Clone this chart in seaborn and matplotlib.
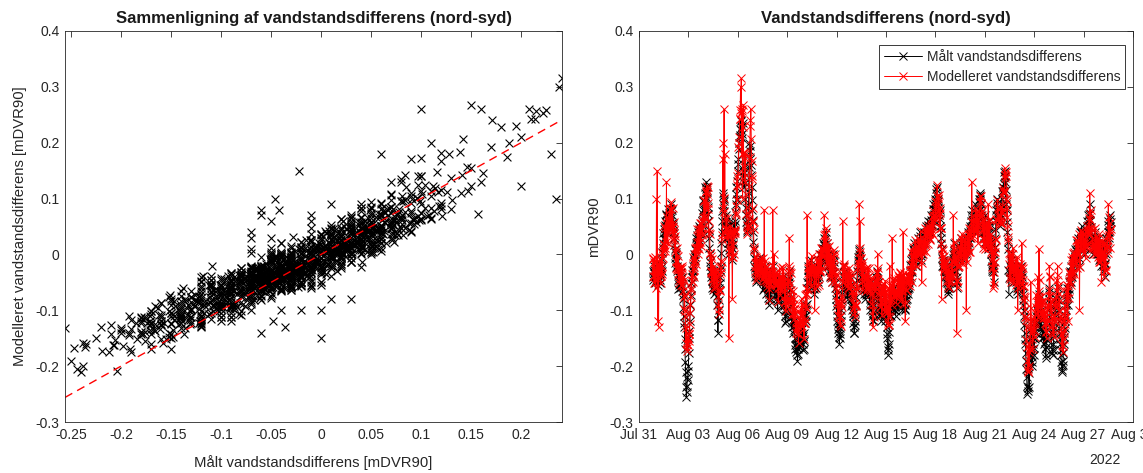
import numpy as np
import pandas as pd
import matplotlib
matplotlib.use("Agg")
import matplotlib.pyplot as plt
import matplotlib.dates as mdates
from matplotlib.ticker import FuncFormatter
import seaborn as sns

# Half-hourly water-level difference north-south, in millimetres (DVR90).
# One line per day, each line starting at 20:00.
start_time = "2022-07-31 20:00"
sample_step = "30min"

measured_mm = [
    -30, -41, -45, -28, -20, -33, -35, -52, -50, -37, -25, -46, -40, -22, -30, -48, -55, -36, -20, -14, -35, -51, -45, -27, -10, -24, -30, -8, 5, 12, 20, 38, 45, 27, 30, 52, 60, 41, 50, 73, 70, 48, 40, 62, 65, 81, 55, 67,
    75, 58, 60, 84, 90, 66, 50, 71, 80, 57, 40, 49, 55, 38, 30, 17, 10, -6, -15, 4, 0, -22, -30, -11, -20, -38, -45, -62, -55, -41, -35, -53, -60, -44, -50, -31, -40, -58, -65, -72, -80, -96, -110, -122, -130, -151, -170, -192,
    -210, -238, -256, -247, -235, -219, -225, -208, -200, -176, -150, -137, -120, -104, -90, -73, -60, -52, -40, -27, -20, -36, -30, -12, 0, -9, 10, -4, -10, 8, 20, 29, 35, 22, 15, 31, 40, 18, 25, 44, 50, 37, 30, 48, 55, 39, 45, 52,
    60, 74, 80, 98, 95, 82, 70, 93, 110, 121, 100, 117, 130, 112, 120, 101, 85, 72, 60, 44, 30, 12, 0, -13, -20, -34, -40, -27, -30, -47, -60, -51, -45, -63, -70, -58, -50, -39, -35, -52, -65, -48, -55, -74, -90, -118, -140, -117,
    -100, -82, -60, -51, -40, -28, -20, 3, 20, 41, 60, 77, 90, 104, 110, 96, 100, 78, 60, 47, 40, 58, 70, 49, 30, 44, 50, 33, 20, 8, 0, 21, 40, 52, 60, 38, 20, 5, -10, 12, 30, 19, 10, 34, 50, 42, 40, 55,
    60, 76, 90, 108, 120, 97, 100, 131, 150, 162, 170, 188, 200, 214, 210, 225, 238, 222, 241, 215, 230, 208, 235, 180, 150, 139, 120, 146, 160, 128, 100, 84, 70, 58, 50, 43, 40, 52, 60, 88, 110, 157, 200, 186, 195, 171, 160, 142,
    120, 97, 80, 61, 40, 22, 10, -6, -20, -33, -40, -24, -10, -31, -50, -38, -30, -12, -20, -41, -45, -28, -10, -22, -30, -16, -5, -27, -35, -48, -20, -37, -50, -64, -30, -44, -60, -42, -20, -34, -40, -58, -70, -47, -30, -39, -50, -62,
    -60, -78, -90, -81, -70, -52, -40, -63, -80, -66, -50, -38, -30, -47, -60, -41, -20, -35, -50, -62, -70, -55, -40, -61, -80, -72, -60, -84, -100, -86, -70, -58, -50, -67, -80, -71, -60, -76, -90, -68, -40, -57, -70, -61, -50, -66, -80, -93,
    -90, -102, -110, -123, -120, -108, -100, -87, -80, -67, -60, -44, -30, -41, -50, -63, -70, -81, -90, -104, -110, -119, -130, -112, -100, -121, -140, -128, -120, -136, -150, -163, -170, -152, -160, -174, -180, -168, -190, -178, -170, -158, -150, -166, -160, -147, -140, -133,
    -130, -141, -150, -133, -120, -146, -160, -171, -170, -155, -140, -122, -110, -97, -90, -108, -120, -88, -60, -49, -40, -27, -20, -38, -50, -41, -30, -47, -60, -33, -10, -26, -40, -31, -20, -36, -50, -62, -70, -54, -40, -35, -30, -47, -60, -38, -20, -28,
    -30, -44, -50, -29, -10, -23, -40, -18, 0, -11, -20, -3, 10, -6, -10, 8, 20, 11, 0, 17, 30, 22, 10, 27, 40, 14, -10, 6, 20, -2, -20, -9, 0, -17, -30, -21, -10, -28, -40, -32, -20, -37, -50, -41, -30, -12, 0, -14,
    -20, -32, -40, -51, -60, -73, -80, -92, -100, -111, -120, -133, -140, -124, -130, -147, -160, -142, -150, -131, -120, -108, -100, -84, -70, -61, -50, -36, -20, -31, -40, -52, -60, -44, -30, -49, -70, -58, -50, -66, -80, -71, -60, -48, -40, -57, -70, -54,
    -60, -71, -80, -93, -100, -88, -90, -104, -110, -122, -130, -141, -140, -127, -120, -103, -90, -76, -60, -45, -30, -21, -10, -4, 0, 6, 10, -2, -10, -16, -20, -33, -40, -52, -60, -43, -30, -41, -50, -63, -70, -52, -40, -61, -80, -69, -60, -72,
    -50, -63, -70, -54, -40, -51, -60, -72, -80, -91, -100, -84, -70, -82, -90, -101, -110, -117, -120, -104, -90, -73, -60, -71, -80, -58, -40, -56, -70, -48, -30, -42, -50, -66, -80, -92, -100, -107, -110, -98, -90, -106, -120, -97, -80, -91, -100, -87,
    -90, -103, -110, -94, -80, -98, -120, -111, -100, -117, -130, -142, -150, -166, -180, -171, -160, -138, -120, -109, -100, -92, -80, -96, -110, -88, -70, -82, -90, -74, -60, -81, -100, -91, -80, -95, -110, -101, -90, -78, -70, -64, -60, -76, -90, -68, -50, -62,
    -70, -82, -90, -76, -60, -69, -80, -94, -100, -86, -70, -58, -50, -71, -90, -97, -100, -81, -60, -72, -80, -63, -50, -61, -70, -54, -40, -52, -60, -44, -30, -19, -10, -27, -40, -31, -20, -6, 10, -2, -10, 6, 20, 11, 0, -11, -20, -8,
    0, 12, 20, 6, -10, 9, 30, 21, 10, 27, 40, 33, 20, 4, -10, -3, 0, 11, 20, 16, 10, 22, 30, 38, 40, 28, 20, 37, 50, 41, 30, 35, 40, 53, 60, 44, 30, 41, 50, 47, 40, 58, 70, 61, 50, 55, 60, 52,
    70, 82, 90, 73, 60, 81, 100, 92, 80, 97, 110, 118, 120, 104, 90, 96, 100, 84, 70, 76, 80, 64, 50, 41, 30, 18, 10, -6, -20, -14, -10, -21, -30, -18, -10, -27, -40, -31, -20, -36, -50, -44, -40, -52, -60, -66, -70, -58,
    -60, -51, -40, -47, -50, -36, -20, -27, -30, -14, 0, -6, -10, 7, 20, 3, -20, -11, 0, -16, -30, -47, -60, -52, -40, -23, -10, 1, 10, -3, -10, 6, 20, 13, 0, 14, 30, 22, 10, -2, -10, 7, 20, 11, 0, 16, 30, 24,
    20, 8, 0, 16, 30, 19, 10, 26, 40, 31, 20, 37, 50, 42, 30, 47, 60, 71, 80, 64, 50, 61, 70, 54, 40, 52, 60, 77, 90, 68, 50, 63, 70, 56, 40, 51, 60, 72, 80, 93, 100, 106, 110, 99, 90, 81, 70, 62,
    50, 38, 30, 47, 60, 41, 20, 31, 40, 57, 70, 49, 30, 42, 50, 28, 10, 27, 40, 51, 60, 38, 20, 26, 30, 13, 0, -12, -20, -26, -30, -18, -10, -32, -50, -24, 0, 14, 30, 46, 60, 71, 80, 92, 100, 84, 70, 78,
    60, 71, 80, 63, 50, 72, 90, 81, 70, 88, 100, 113, 120, 114, 110, 126, 140, 147, 150, 141, 130, 116, 100, 91, 80, 58, 40, 23, 10, -28, -70, -42, -20, -31, -40, -26, -10, -22, -30, -13, 0, -27, -50, -36, -20, -32, -40, -29,
    -30, -43, -50, -34, -20, -41, -60, -66, -70, -54, -40, -51, -60, -44, -30, -42, -50, -37, -20, -31, -40, -57, -70, -81, -90, -101, -110, -126, -140, -152, -160, -177, -190, -206, -220, -236, -250, -244, -240, -204, -170, -212, -238, -191, -150, -136, -120, -134,
    -180, -192, -200, -184, -170, -161, -150, -167, -180, -152, -130, -121, -110, -126, -140, -117, -100, -112, -120, -103, -90, -78, -70, -92, -110, -122, -130, -113, -100, -111, -120, -136, -150, -141, -130, -147, -160, -148, -140, -157, -170, -180, -185, -166, -150, -133, -120, -108,
    -100, -91, -80, -68, -60, -87, -110, -122, -130, -141, -150, -162, -170, -176, -180, -171, -160, -148, -140, -131, -120, -108, -100, -91, -80, -86, -90, -73, -60, -82, -100, -112, -120, -131, -140, -152, -160, -171, -180, -192, -200, -207, -210, -198, -190, -176, -160, -148,
    -140, -131, -120, -108, -100, -91, -80, -72, -60, -76, -90, -68, -50, -62, -70, -48, -30, -41, -50, -33, -20, -31, -40, -22, -10, -18, -30, -14, 0, -11, -20, -4, 10, 1, -10, 6, 20, 9, 0, 17, 30, 22, 10, -6, -20, 13, 40, 29,
    30, 41, 50, 36, 20, 31, 40, 24, 10, 22, 30, 14, 0, 11, 20, 32, 40, 51, 60, 43, 30, 52, 70, 61, 50, 72, 90, 74, 60, 49, 40, 28, 20, 26, 30, 13, 0, 9, 20, 31, 40, 24, 10, 18, 30, 16, 0, 8,
    20, 9, 0, 17, 30, 8, -10, 2, 10, -6, -20, -9, 0, 11, 20, 4, -10, -21, -30, -8, 10, -16, -40, -18, 0, 16, 30, 19, 10, 26, 40, 52, 60, 44, 30, 41, 50, 63, 70, 58,
]

modelled_mm = [
    -9, -39, -7, -38, -51, -14, -4, -37, -27, -60, -30, 100, -30, 150, -42, -120, -17, -130, -32, -36, -29, -8, -19, -52, -34, -38, 2, -21, -35, 6, -7, 12, 18, 16, 50, 12, 6, 48, 56, 22, 130, 42, 67, 36, 20, 61, 43, 71,
    58, 47, 82, 48, 41, 82, 93, 49, 48, 47, 84, 50, 25, 58, 43, 38, 33, 5, 25, -11, -24, 10, 11, -26, -22, -27, -3, -35, -45, -26, -52, -26, -22, -55, -35, -39, -54, -20, -24, -57, -40, -66, -46, -76, -98, -73, -102, -111,
    -127, -159, -131, -168, -160, -172, -150, -163, -141, -155, -143, -143, -125, -88, -105, -77, -60, -63, -35, -47, -49, -16, -4, -40, -22, -28, 12, -11, 0, 10, -17, 13, 23, 12, 45, 12, 1, 32, 46, 9, 23, 23, 57, 30, 15, 57, 43, 39,
    48, 35, 67, 61, 58, 96, 98, 65, 65, 69, 114, 111, 82, 123, 115, 109, 120, 81, 92, 59, 38, 45, 36, 3, 3, -29, -3, -31, -45, -8, -32, -32, -42, -53, -20, -58, -62, -42, -29, -43, -27, -58, -31, -40, -55, -38, -75, -91,
    -97, -107, -63, -65, -64, -35, -24, -32, -12, -13, 27, 34, 170, 83, 200, 101, 260, 76, 180, 65, 38, 48, 46, 44, 65, 28, 37, 37, 35, 42, -150, 13, 8, 4, 50, 42, 38, 39, 26, -4, -80, -4, 37, 17, 0, 43, 38, 42,
    43, 38, 75, 71, 86, 124, 141, 98, 123, 145, 192, 200, 210, 242, 243, 259, 300, 253, 315, 257, 180, 261, 100, 229, 268, 184, 182, 157, 130, 180, 173, 143, 108, 72, 85, 53, 36, 49, 51, 43, 63, 72, 122, 175, 230, 240, 260, 206,
    168, 140, 135, 84, 58, 59, 46, 8, 13, -22, -3, -30, -45, -5, -17, -21, -32, -40, -10, -17, -29, -25, -24, -32, -7, -33, -13, -13, -15, -8, -37, -33, -7, -44, -25, -47, -39, 80, -39, -41, -12, -45, -23, -50, -58, -23, -32, -29,
    -32, -52, -35, -61, -82, -53, -37, -51, -32, -57, -46, -46, -50, -19, 80, -32, -42, -43, 0, -35, -54, -34, -37, -54, -32, -55, -46, -52, -60, -48, -85, -59, -40, -60, -25, -50, -72, -43, -39, -63, -65, -62, -23, -49, -58, -25, -47, -39,
    -50, -83, -53, -85, -102, -82, -87, -95, -75, -81, -46, -47, -60, -20, 30, -26, -32, -53, -33, -64, -82, -76, -77, -106, -92, -106, -66, -88, -115, -79, -105, -96, -107, -140, -120, -122, -139, -133, -134, -142, -142, -159, -123, -125, -125, -117, -132, -107,
    -97, -110, -80, -111, -129, -92, -87, -120, -122, -152, -123, -122, -115, -73, -95, -70, -60, -98, 70, -71, -64, -33, -24, -31, -12, -49, -28, -33, -35, -23, -57, -23, -2, -33, -20, -31, -29, -25, -29, -49, -100, -60, -23, -32, -35, -23, -57, -28,
    -7, -35, -10, -39, -54, -18, 1, -27, -32, -29, 12, -13, -25, 11, 3, -1, -2, -4, 35, 6, 70, 23, 36, 8, 13, 6, 47, 12, -20, 20, 13, 3, -7, -21, 15, -17, -39, -10, 1, -32, -32, -43, -3, -34, -50, -17, -32, -7,
    8, -21, 0, -32, -49, -35, -39, -60, -55, -86, -66, -91, -108, -84, -112, -84, -87, -124, -110, -112, -129, -90, -87, -95, -75, -78, 60, -41, -50, -17, -22, -21, -27, -54, -35, -39, -39, -33, -37, -57, -37, -60, -46, -51, -60, -24, -42, -42,
    -40, -56, -35, -54, -72, -65, -67, -75, -65, -98, -76, -89, -105, -92, -112, -87, -90, -93, -53, -59, -64, -29, -14, -25, -7, -20, 90, 4, 60, 12, -17, -6, -7, -40, -20, -47, -64, -27, -14, -40, -37, -57, -36, -44, -45, -25, -65, -42,
    -42, -62, -25, -46, -62, -38, -24, -50, -47, -66, -46, -71, -88, -48, -55, -55, -60, -91, -130, -100, -112, -76, -57, -60, -47, -65, -46, -50, -45, -32, -55, -33, 0, -44, -25, -49, -72, -64, -67, -94, -85, -92, -56, -86, -108, -61, -65, -64,
    -70, -77, -53, -86, -102, -66, -47, -85, -95, -105, -66, -97, -105, -93, -122, -126, -127, -60, -110, -20, -112, -81, -67, -79, -55, -90, 30, -68, -58, -46, -75, -47, -42, -71, -63, -74, -72, -67, -77, -88, -65, -72, -36, -44, -60, -40, -75, -41,
    -32, -52, -33, -65, -82, -48, -39, -56, -55, -88, 40, -66, -58, -34, -47, -44, -120, -87, -63, -64, -64, -44, -47, -50, -37, -55, -36, -46, -45, -28, -57, -29, -17, -26, 5, -27, -49, -20, -4, -15, 13, -18, 2, 4, 5, 25, -7, -1,
    -7, -20, 15, 7, 1, 12, 1, 0, 28, 0, 22, 20, 25, 42, 8, 9, -50, -15, 15, 6, 1, 22, 21, 8, 28, 17, 47, 21, 5, 46, 38, 41, 33, 18, 50, 43, 38, 45, 36, 27, 48, 26, 47, 51, 52, 67, 38, 55,
    60, 35, 77, 69, 68, 71, 63, 64, 95, 68, 84, 87, 92, 124, 105, 101, 90, 76, 107, 71, 48, 74, 83, 47, 48, 20, -80, 11, 0, 8, -22, -4, -2, -28, -10, -18, -24, -16, -24, -35, -12, -47, -28, -36, -45, -28, -57, -39,
    -40, -60, -35, -46, -49, -31, -29, -40, -12, -38, -13, -11, 70, 8, -17, 12, 23, -9, 0, -16, -14, -5, -140, -46, -47, -58, -23, -20, -20, 15, 3, 2, -2, -6, 30, 8, -14, 20, 36, 8, 13, -18, 2, 5, 5, 25, -7, 21,
    33, 7, -100, 3, -14, 22, 36, 10, 13, 5, 47, 24, 5, 46, 38, 42, 33, 30, 130, 58, 58, 62, 56, 44, 65, 33, 47, 45, 42, 83, 75, 65, 53, 43, 77, 46, 21, 52, 63, 55, 75, 69, 104, 96, 92, 105, 75, 78,
    70, 42, 60, 28, 11, 48, 63, 27, 18, 10, 47, 50, 52, 58, 18, 42, 53, 11, 90, 17, 21, 52, 63, 24, 18, 5, 37, 11, -10, 7, -22, -16, -60, -25, 5, -32, -54, -13, 11, 5, 28, 25, 64, 61, 62, 98, 85, 81,
    70, 58, 67, 58, 58, 61, 56, 55, 85, 57, 74, 78, 82, 119, 113, 111, 110, 114, 155, 142, 136, 147, 141, 99, 95, 67, 84, 51, 25, 32, 3, -18, -40, -44, 0, -31, -49, -15, 1, -26, -22, -29, 12, -24, -50, -17, -22, -22,
    -27, -36, -10, -38, -54, -23, -4, -40, -100, -60, -36, -46, -45, -27, -57, -29, -17, -44, -25, -37, 20, -20, -24, -56, -45, -75, -56, -81, -98, -77, -112, -112, -117, -154, -130, -166, -190, -205, -210, -208, -160, -175, -200, -169, -170, -132, -50, -96,
    -120, -140, -135, -152, -169, -133, -124, -135, -112, -148, -123, -119, -105, -72, -95, -86, -97, -107, -40, -95, -112, -75, 10, -65, -45, -86, -76, -89, -105, -77, -85, -84, -90, -113, -100, -111, -109, -106, -114, -122, -102, -138, -123, -137, -150, -117, -122, -93,
    -90, -98, -63, -74, -20, -40, -39, -74, -85, -103, -83, -108, -125, -113, -142, -136, -127, -148, -110, -118, -119, -90, -87, -95, -75, -85, -46, -66, -20, -37, -57, -55, -70, -102, -83, -101, -119, -111, -114, -145, -132, -163, -143, -164, -175, -139, -152, -136,
    -117, -125, -90, -101, -112, -80, -67, -78, -55, -66, -120, -56, -78, -32, -47, -35, -40, -50, -10, -36, -54, -22, -4, -35, -32, -33, 2, -15, -35, 5, -7, -6, -7, -16, 25, -4, -24, 12, 26, 0, 3, 1, 37, 15, -100, 8, -22, 18,
    43, 12, 40, 31, 31, 37, 26, 17, 38, 3, 22, 15, 15, 28, -7, 16, 23, 15, 50, 41, 38, 44, 36, 38, 65, 37, 110, 62, 72, 80, 45, 49, 43, 11, 30, 16, 11, 19, 11, 0, 18, 10, 47, 17, 0, 32, 18, 21,
    8, -4, 30, 4, -14, 23, 36, -1, -7, -14, 22, -8, -50, 5, -7, 16, 23, -8, 5, -21, -39, -2, 21, -20, -27, -29, 12, 14, 15, 33, 3, 26, 90, 35, 67, 34, 11, 42, 56, 46,
]

series_labels = ["Målt vandstandsdifferens", "Modelleret vandstandsdifferens"]
scatter_xticks = [-0.25, -0.2, -0.15, -0.1, -0.05, 0, 0.05, 0.1, 0.15, 0.2]
value_ticks = [-0.3, -0.2, -0.1, 0, 0.1, 0.2, 0.3, 0.4]
date_start, date_end = "2022-07-31", "2022-08-30"

assert len(measured_mm) == len(modelled_mm), (len(measured_mm), len(modelled_mm))

df = pd.DataFrame({
    "time": pd.date_range(start_time, periods=len(measured_mm), freq=sample_step),
    "measured": np.asarray(measured_mm) / 1000.0,
    "modelled": np.asarray(modelled_mm) / 1000.0,
})

sns.set_theme(style="white")
plt.rcParams.update({
    "font.family": ["Liberation Sans", "DejaVu Sans"],
    "axes.unicode_minus": False,
    "text.color": "#262626",
    "axes.labelcolor": "#262626",
})

AX_COLOR = "#262626"
BLACK, RED = "#000000", "#FF0000"
W, H = 1143, 473
fig = plt.figure(figsize=(W / 100, H / 100), dpi=100)
fig.patch.set_facecolor("white")
ax1 = fig.add_axes([65 / W, (H - 422) / H, 497 / W, 391 / H])
ax2 = fig.add_axes([639 / W, (H - 422) / H, 494 / W, 391 / H])


def num_fmt(v, _pos):
    v = round(v, 6) + 0.0
    return f"{v:g}"


def style_axes(ax):
    for s in ax.spines.values():
        s.set_visible(True)
        s.set_color(AX_COLOR)
        s.set_linewidth(0.6)
    ax.tick_params(direction="in", top=True, right=True, length=4, width=0.6,
                   color=AX_COLOR, labelcolor=AX_COLOR, labelsize=10, pad=4)
    ax.grid(False)
    ax.set_facecolor("white")


# Scatter: modelled against measured, with the 1:1 line
sns.scatterplot(data=df, x="measured", y="modelled", marker="x", color=BLACK,
                s=32, linewidth=0.8, legend=False, ax=ax1)
lims = [df["measured"].min(), df["measured"].max()]
ax1.plot(lims, lims, color=RED, linestyle=(0, (6, 4)), linewidth=1.0)
ax1.set_xlim(lims)
ax1.set_ylim(value_ticks[0], value_ticks[-1])
ax1.set_xticks(scatter_xticks)
ax1.set_yticks(value_ticks)
ax1.xaxis.set_major_formatter(FuncFormatter(num_fmt))
ax1.yaxis.set_major_formatter(FuncFormatter(num_fmt))
style_axes(ax1)
ax1.set_xlabel("Målt vandstandsdifferens [mDVR90]", fontsize=10.7, labelpad=10)
ax1.set_ylabel("Modelleret vandstandsdifferens [mDVR90]", fontsize=10.7, labelpad=6)
ax1.set_title("Sammenligning af vandstandsdifferens (nord-syd)", fontsize=12,
              fontweight="bold", color="k", pad=6)

# Time series of both series
line_kw = dict(marker="x", markersize=5.5, markeredgewidth=0.7, linewidth=0.7, ax=ax2)
sns.lineplot(data=df, x="time", y="measured", color=BLACK, markeredgecolor=BLACK,
             label=series_labels[0], **line_kw)
sns.lineplot(data=df, x="time", y="modelled", color=RED, markeredgecolor=RED,
             label=series_labels[1], **line_kw)
ax2.set_xlim(pd.Timestamp(date_start), pd.Timestamp(date_end))
ax2.set_ylim(value_ticks[0], value_ticks[-1])
ax2.set_xticks(pd.date_range(date_start, date_end, freq="3D"))
ax2.xaxis.set_major_formatter(mdates.DateFormatter("%b %d"))
ax2.set_yticks(value_ticks)
ax2.yaxis.set_major_formatter(FuncFormatter(num_fmt))
style_axes(ax2)
ax2.set_xlabel("")
ax2.set_ylabel("mDVR90", fontsize=10.7, labelpad=6)
ax2.set_title("Vandstandsdifferens (nord-syd)", fontsize=12, fontweight="bold",
              color="k", pad=6)
leg = ax2.legend(loc="upper right", bbox_to_anchor=(0.984, 0.964), borderaxespad=0,
                 fontsize=10, frameon=True, fancybox=False, framealpha=1,
                 edgecolor="k", handlelength=2.8, handletextpad=0.3,
                 borderpad=0.35, labelspacing=0.45, numpoints=1)
leg.get_frame().set_linewidth(0.6)
for t in leg.get_texts():
    t.set_color(AX_COLOR)
fig.text(1105 / W, 1 - 460 / H, "2022", ha="center", va="center", fontsize=10,
         color=AX_COLOR)

fig.savefig("out.png", dpi=100, facecolor="white")
